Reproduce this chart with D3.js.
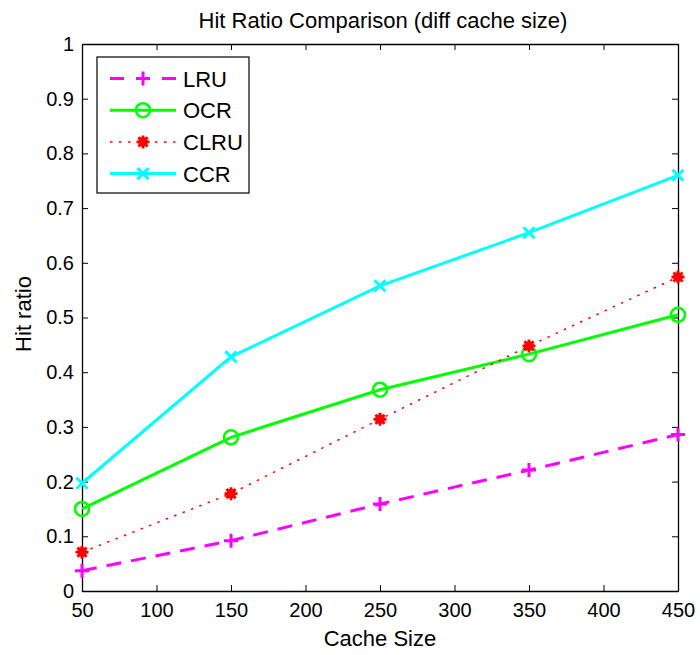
<!DOCTYPE html>
<html>
<head>
<meta charset="utf-8">
<script src="https://d3js.org/d3.v7.min.js"></script>
<style>
  body { margin: 0; background: #fff; }
  text { font-family: "Liberation Sans", Arial, Helvetica, sans-serif; fill: #000; }
</style>
</head>
<body>
<script>

// data
var cacheSizes = [50, 150, 250, 350, 450];
var lruValues  = [0.037, 0.092, 0.159, 0.221, 0.286];
var ocrValues  = [0.150, 0.281, 0.368, 0.433, 0.505];
var clruValues = [0.071, 0.178, 0.314, 0.448, 0.574];
var ccrValues  = [0.197, 0.428, 0.558, 0.655, 0.760];

var xTicks = [50, 100, 150, 200, 250, 300, 350, 400, 450];
var yTicks = [0, 0.1, 0.2, 0.3, 0.4, 0.5, 0.6, 0.7, 0.8, 0.9, 1];

var seriesNames = ["LRU", "OCR", "CLRU", "CCR"];
var seriesData = [lruValues, ocrValues, clruValues, ccrValues];

var styles = {
    LRU:  { color: "#ff00ff", width: 3,   dash: "15,10", marker: "plus" },
    OCR:  { color: "#00ff00", width: 3,   dash: null,    marker: "circle" },
    CLRU: { color: "#ff0000", width: 1.5, dash: "2.5,6.5", marker: "asterisk" },
    CCR:  { color: "#00ffff", width: 3,   dash: null,    marker: "x" }
};

var W = 700, H = 655;
var margin = { top: 44, right: 22, bottom: 64, left: 82 };
var width = W - margin.left - margin.right;
var height = H - margin.top - margin.bottom;

var svg = d3.select("body").append("svg")
    .attr("width", W)
    .attr("height", H);

var g = svg.append("g")
    .attr("transform", "translate(" + margin.left + "," + margin.top + ")");

var xScale = d3.scaleLinear().domain([50, 450]).range([0, width]);
var yScale = d3.scaleLinear().domain([0, 1]).range([height, 0]);

// axes, ticks pointing inward on all four sides
g.append("g")
    .attr("class", "axis")
    .attr("transform", "translate(0," + height + ")")
    .call(d3.axisBottom(xScale).tickValues(xTicks).tickSize(-6).tickSizeOuter(0).tickPadding(12)
        .tickFormat(function(d) { return String(d); }));

g.append("g")
    .attr("class", "axis")
    .call(d3.axisLeft(yScale).tickValues(yTicks).tickSize(-6).tickSizeOuter(0).tickPadding(8)
        .tickFormat(function(d) { return String(d); }));

g.append("g")
    .attr("class", "axis")
    .call(d3.axisTop(xScale).tickValues(xTicks).tickSize(-6).tickSizeOuter(0).tickFormat(""));

g.append("g")
    .attr("class", "axis")
    .attr("transform", "translate(" + width + ",0)")
    .call(d3.axisRight(yScale).tickValues(yTicks).tickSize(-6).tickSizeOuter(0).tickFormat(""));

g.selectAll(".axis path").attr("stroke", "#000").attr("stroke-width", 1.3);
g.selectAll(".axis line").attr("stroke", "#000").attr("stroke-width", 1);
g.selectAll(".axis text")
    .style("font-family", "'Liberation Sans', Arial, Helvetica, sans-serif")
    .style("font-size", "20px")
    .attr("fill", "#000");

// marker shapes
function markerPath(type) {
    if (type == "plus") {
        var s = 7;
        return "M" + (-s) + ",0H" + s + "M0," + (-s) + "V" + s;
    }
    if (type == "x") {
        var s = 5.5;
        return "M" + (-s) + "," + (-s) + "L" + s + "," + s + "M" + (-s) + "," + s + "L" + s + "," + (-s);
    }
    // asterisk
    var s = 6.5, d = 4.6;
    return "M" + (-s) + ",0H" + s + "M0," + (-s) + "V" + s +
        "M" + (-d) + "," + (-d) + "L" + d + "," + d + "M" + (-d) + "," + d + "L" + d + "," + (-d);
}

function drawMarker(sel, type, color) {
    if (type == "circle") {
        sel.append("circle")
            .attr("r", 7)
            .attr("fill", "none")
            .attr("stroke", color)
            .attr("stroke-width", 2.6);
    } else if (type == "asterisk") {
        sel.append("circle")
            .attr("r", 4.8)
            .attr("fill", color);
        sel.append("path")
            .attr("d", markerPath(type))
            .attr("fill", "none")
            .attr("stroke", color)
            .attr("stroke-width", 2.8);
    } else {
        sel.append("path")
            .attr("d", markerPath(type))
            .attr("fill", "none")
            .attr("stroke", color)
            .attr("stroke-width", 3);
    }
}

var line = d3.line()
    .x(function(d) { return xScale(d[0]); })
    .y(function(d) { return yScale(d[1]); });

seriesNames.forEach(function(name, k) {
    var st = styles[name];
    var pts = cacheSizes.map(function(c, i) { return [c, seriesData[k][i]]; });

    g.append("path")
        .datum(pts)
        .attr("d", line)
        .attr("fill", "none")
        .attr("stroke", st.color)
        .attr("stroke-width", st.width)
        .attr("stroke-dasharray", st.dash);

    g.selectAll("g.mk-" + name)
        .data(pts)
        .enter()
        .append("g")
        .attr("class", "mk-" + name)
        .attr("transform", function(d) { return "translate(" + xScale(d[0]) + "," + yScale(d[1]) + ")"; })
        .each(function() { drawMarker(d3.select(this), st.marker, st.color); });
});

// title and axis labels
svg.append("text")
    .attr("x", margin.left + width / 2 + 3)
    .attr("y", 28)
    .attr("text-anchor", "middle")
    .style("font-size", "22px")
    .text("Hit Ratio Comparison (diff cache size)");

svg.append("text")
    .attr("x", margin.left + width / 2)
    .attr("y", 646)
    .attr("text-anchor", "middle")
    .style("font-size", "22px")
    .text("Cache Size");

svg.append("text")
    .attr("transform", "translate(31,314) rotate(-90)")
    .attr("text-anchor", "middle")
    .style("font-size", "22px")
    .text("Hit ratio");

// legend
var legend = svg.append("g");

legend.append("rect")
    .attr("x", 97)
    .attr("y", 57)
    .attr("width", 152)
    .attr("height", 136)
    .attr("fill", "#fff")
    .attr("stroke", "#000")
    .attr("stroke-width", 1.2);

var legendRows = legend.selectAll("g.row")
    .data(seriesNames)
    .enter()
    .append("g")
    .attr("class", "row")
    .attr("transform", function(d, i) { return "translate(0," + (78.5 + i * 31.7) + ")"; });

legendRows.append("line")
    .attr("x1", 110)
    .attr("x2", 176)
    .attr("stroke", function(d) { return styles[d].color; })
    .attr("stroke-width", function(d) { return styles[d].width; })
    .attr("stroke-dasharray", function(d) { return styles[d].dash == "15,10" ? "14,12" : styles[d].dash; });

legendRows.each(function(d) {
    var mk = d3.select(this).append("g").attr("transform", "translate(143,0)");
    drawMarker(mk, styles[d].marker, styles[d].color);
});

legendRows.append("text")
    .attr("x", 183)
    .attr("y", 8)
    .style("font-size", "22px")
    .text(function(d) { return d; });

</script>
</body>
</html>
